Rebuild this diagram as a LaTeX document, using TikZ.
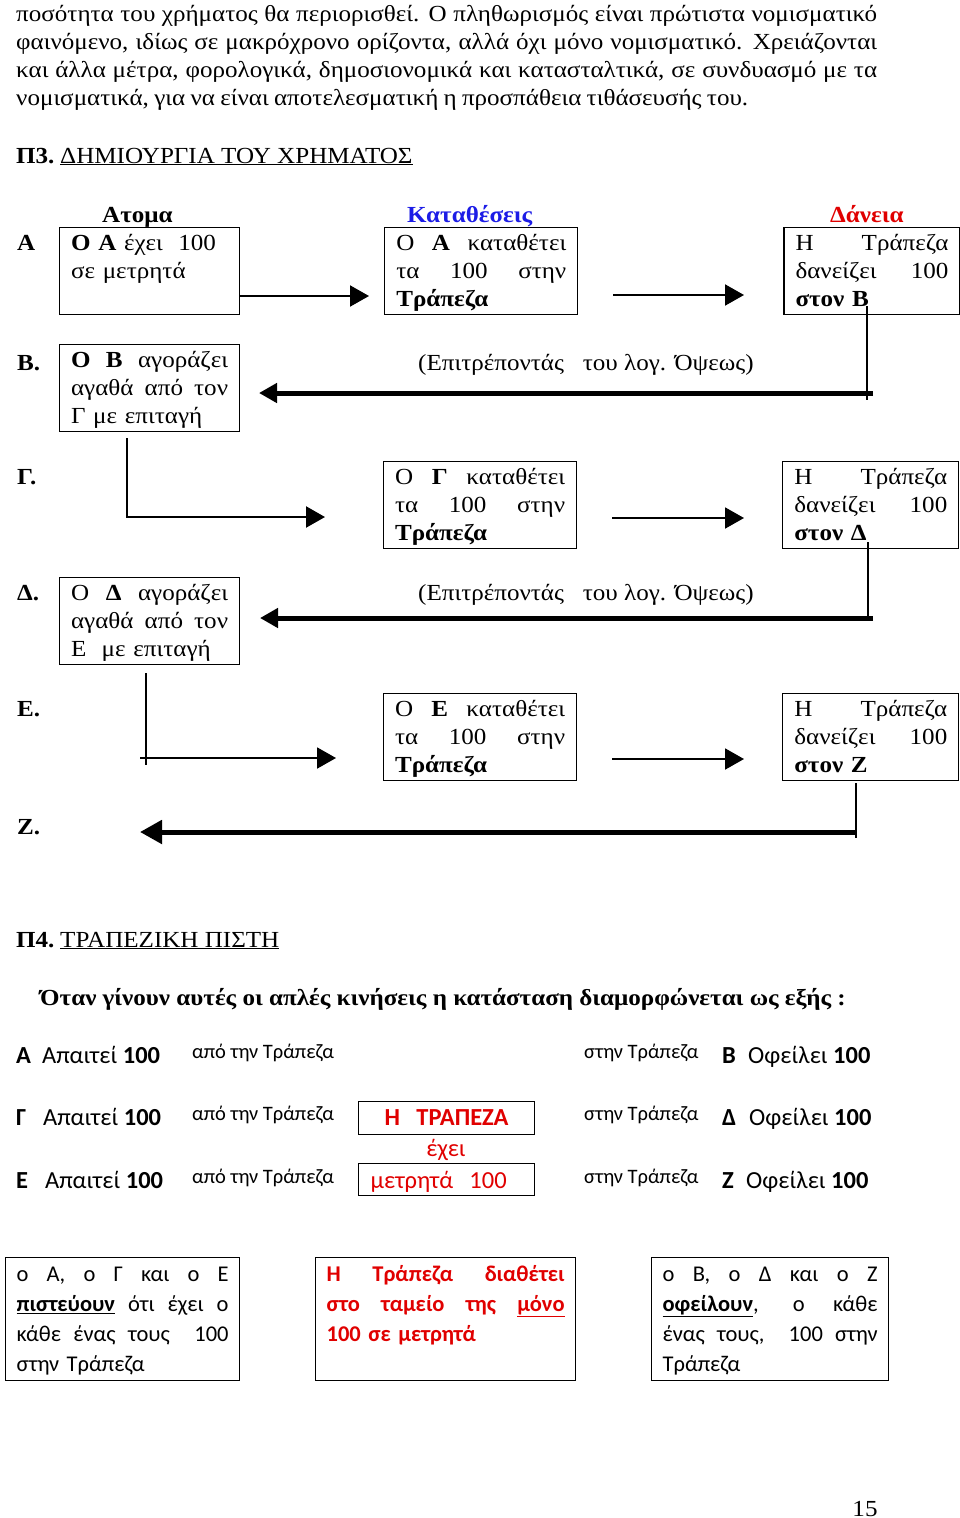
\documentclass[tikz,border=0pt]{standalone}
\usepackage{fontspec}
\setmainfont{Liberation Serif}[FakeStretch=1.09]
\newfontfamily\calibri{Carlito}
\usepackage{tikz}
\usetikzlibrary{arrows.meta, positioning}
\definecolor{depblue}{HTML}{1C1CE6}
\definecolor{loanred}{HTML}{E00000}
\newcommand{\tms}{\fontsize{23}{28}\selectfont}
\newcommand{\cbig}{\calibri\fontsize{24.5}{29}\selectfont}
\newcommand{\csml}{\calibri\fontsize{20.5}{24}\selectfont}
\newcommand{\cbox}{\calibri\fontsize{22.5}{30}\selectfont}
% justified line (spaces stretch to the full width)
\newcommand{\jl}[1]{\makebox[\hsize][s]{\spaceskip=0pt\xspaceskip=0pt #1}}

\begin{document}
\begin{tikzpicture}[
    x=1pt, y=-1pt,
    bodytxt/.style={anchor=base west, inner sep=0pt, font=\tms},
    boldtxt/.style={anchor=base west, inner sep=0pt, font=\tms\bfseries},
    tbox/.style={draw, line width=1.2pt, anchor=north west, inner xsep=11.5pt, inner ysep=0pt, text height=23pt, text depth=64pt, align=left, font=\tms},
    flow/.style={line width=2pt, -{Triangle[length=19pt,width=21pt]}},
    back/.style={line width=5pt, -{Triangle[length=18pt,width=19pt]}},
    drop/.style={line width=2.6pt},
    crow/.style={anchor=base west, inner sep=0pt, font=\cbig},
    csm/.style={anchor=base west, inner sep=0pt, font=\csml},
    redbox/.style={draw, line width=1.2pt, anchor=north west, inner xsep=6pt, inner ysep=0pt, text width=164pt, text=loanred, font=\cbig},
    note/.style={draw, line width=1.2pt, anchor=north west, inner xsep=11pt, inner ysep=0pt, text height=24pt, text depth=99pt, align=left, font=\cbox}
]
\useasboundingbox (0,0) rectangle (960,1518);

% tail of the previous paragraph
\node[bodytxt] (p1) at (16,21) {\makebox[861pt][s]{ποσότητα του χρήματος θα περιορισθεί. Ο πληθωρισμός είναι πρώτιστα νομισματικό}};
\node[bodytxt] (p2) at (16,49) {\makebox[861pt][s]{φαινόμενο, ιδίως σε μακρόχρονο ορίζοντα, αλλά όχι μόνο νομισματικό. Χρειάζονται}};
\node[bodytxt] (p3) at (16,77) {\makebox[861pt][s]{και άλλα μέτρα, φορολογικά, δημοσιονομικά και κατασταλτικά, σε συνδυασμό με τα}};
\node[bodytxt] (p4) at (16,105) {\makebox[732pt][s]{νομισματικά, για να είναι αποτελεσματική η προσπάθεια τιθάσευσής του.}};

% Π3 heading
\node[boldtxt] (h3) at (16,163) {Π3.};
\node[bodytxt] (h3t) at (60,163) {\underline{ΔΗΜΙΟΥΡΓΙΑ ΤΟΥ ΧΡΗΜΑΤΟΣ}};

% column heads
\node[boldtxt] (hind) at (102,222) {Ατομα};
\node[boldtxt, text=depblue] (hdep) at (407,222) {Καταθέσεις};
\node[boldtxt, text=loanred] (hloan) at (830,222) {Δάνεια};

% Row A
\node[boldtxt] (la) at (17,250) {Α};
\node[tbox, text width=157pt] (a1) at (59,227) {\textbf{Ο Α} έχει\ \ 100\\σε μετρητά};
\node[tbox, text width=170pt, right=144pt of a1] (a2) {\jl{Ο \textbf{Α} καταθέτει}\\\jl{τα 100 στην}\\\textbf{Τράπεζα}};
\node[tbox, text width=153pt, right=205pt of a2] (a3) {\jl{Η Τράπεζα}\\\jl{δανείζει 100}\\\textbf{στον Β}};
\coordinate (a12) at (369,296);
\draw[flow] (a1.east |- a12) -- (a12);
\coordinate (a23s) at (613,295);
\coordinate (a23e) at (744,295);
\draw[flow] (a23s) -- (a23e);

% Row B
\node[boldtxt] (lb) at (17,370) {Β.};
\node[tbox, text width=157pt] (b1) at (59,344) {\jl{\textbf{Ο} \textbf{Β} αγοράζει}\\\jl{αγαθά από τον}\\Γ με επιταγή};
\node[bodytxt] (allow1) at (418,370) {(Επιτρέποντάς\ \ \ του λογ. Όψεως)};
\coordinate (ab1) at (867,306);
\coordinate (ab2) at (867,400);
\coordinate (ab3) at (873,393);
\coordinate (ab4) at (259,393);
\draw[drop] (ab1) -- (ab2);
\draw[back] (ab3) -- (ab4);

% Row Γ
\node[boldtxt] (lg) at (17,484) {Γ.};
\coordinate (bg1) at (127,438);
\coordinate (bg2) at (325,517);
\draw[flow, line width=2.3pt] (bg1) |- (bg2);
\node[tbox, text width=170pt] (g2) at (383,461) {\jl{Ο \textbf{Γ} καταθέτει}\\\jl{τα 100 στην}\\\textbf{Τράπεζα}};
\node[tbox, text width=153pt, right=205pt of g2] (g3) {\jl{Η Τράπεζα}\\\jl{δανείζει 100}\\\textbf{στον Δ}};
\coordinate (g23s) at (612,518);
\coordinate (g23e) at (744,518);
\draw[flow] (g23s) -- (g23e);

% Row Δ
\node[boldtxt] (ld) at (17,600) {Δ.};
\node[tbox, text width=157pt] (d1) at (59,577) {\jl{Ο \textbf{Δ} αγοράζει}\\\jl{αγαθά από τον}\\Ε\ \ με επιταγή};
\node[bodytxt] (allow2) at (418,600) {(Επιτρέποντάς\ \ \ του λογ. Όψεως)};
\coordinate (gd1) at (868,542);
\coordinate (gd2) at (868,621);
\coordinate (gd3) at (873,618);
\coordinate (gd4) at (260,618);
\draw[drop] (gd1) -- (gd2);
\draw[back] (gd3) -- (gd4);

% Row Ε
\node[boldtxt] (le) at (17,716) {Ε.};
\coordinate (de1) at (146,673);
\coordinate (de2) at (146,765);
\coordinate (de3) at (140,758);
\coordinate (de4) at (336,758);
\draw[drop] (de1) -- (de2);
\draw[flow] (de3) -- (de4);
\node[tbox, text width=170pt] (e2) at (383,693) {\jl{Ο \textbf{Ε} καταθέτει}\\\jl{τα 100 στην}\\\textbf{Τράπεζα}};
\node[tbox, text width=153pt, right=205pt of e2] (e3) {\jl{Η Τράπεζα}\\\jl{δανείζει 100}\\\textbf{στον Ζ}};
\coordinate (e23s) at (612,759);
\coordinate (e23e) at (744,759);
\draw[flow] (e23s) -- (e23e);

% Row Ζ
\node[boldtxt] (lz) at (17,834) {Ζ.};
\coordinate (ez1) at (856,783);
\coordinate (ez2) at (856,838);
\coordinate (ez3) at (856,832);
\coordinate (ez4) at (140,832);
\draw[drop] (ez1) -- (ez2);
\draw[back, -{Triangle[length=22pt,width=23pt]}] (ez3) -- (ez4);

% Π4 heading
\node[boldtxt] (h4) at (16,947) {Π4.};
\node[bodytxt] (h4t) at (60,947) {\underline{ΤΡΑΠΕΖΙΚΗ ΠΙΣΤΗ}};
\node[boldtxt] (when) at (40,1005) {Όταν γίνουν αυτές οι απλές κινήσεις η κατάσταση διαμορφώνεται ως εξής :};

% claims and debts
\node[crow] (ca) at (16,1063) {\textbf{Α}};
\node[crow] (ca2) at (42,1063) {Απαιτεί \textbf{100}};
\node[csm] (ca3) at (192,1058) {από την Τράπεζα};
\node[csm] (cb3) at (584,1058) {στην Τράπεζα};
\node[crow] (cb) at (722,1063) {\textbf{Β}};
\node[crow] (cb2) at (748,1063) {Οφείλει \textbf{100}};

\node[crow] (cg) at (16,1125) {\textbf{Γ}};
\node[crow] (cg2) at (43,1125) {Απαιτεί \textbf{100}};
\node[csm] (cg3) at (192,1120) {από την Τράπεζα};
\node[csm] (cd3) at (584,1120) {στην Τράπεζα};
\node[crow] (cd) at (722,1125) {\textbf{Δ}};
\node[crow] (cd2) at (749,1125) {Οφείλει \textbf{100}};

\node[crow] (ce) at (16,1188) {\textbf{Ε}};
\node[crow] (ce2) at (45,1188) {Απαιτεί \textbf{100}};
\node[csm] (ce3) at (192,1183) {από την Τράπεζα};
\node[csm] (cz3) at (584,1183) {στην Τράπεζα};
\node[crow] (cz) at (722,1188) {\textbf{Ζ}};
\node[crow] (cz2) at (746,1188) {Οφείλει \textbf{100}};

% the bank
\node[redbox, align=center, text height=24pt, text depth=9pt, font=\cbig\bfseries] (bank) at (358,1101) {Η\ \ ΤΡΑΠΕΖΑ};
\node[anchor=base, inner sep=0pt, text=loanred, font=\cbig] (has) at (446,1156) {έχει};
\node[redbox, align=left, text height=25pt, text depth=7pt] (cash) at (358,1163) {\hspace*{6pt}μετρητά\ \ 100};

% summary boxes
\node[note, text width=212pt] (n1) at (5,1257) {\jl{ο Α, ο Γ και ο Ε}\\\jl{\textbf{\underline{πιστεύουν}} ότι έχει ο}\\\jl{κάθε ένας τους\ \ 100}\\στην Τράπεζα};
\node[note, text width=238pt, text=loanred, font=\cbox\bfseries] (n2) at (315,1257) {\jl{Η Τράπεζα διαθέτει}\\\jl{στο ταμείο της \underline{μόνο}}\\100 σε μετρητά};
\node[note, text width=215pt] (n3) at (651,1257) {\jl{ο Β, ο Δ και ο Ζ}\\\jl{\textbf{\underline{οφείλουν}}, ο κάθε}\\\jl{ένας τους,\ \ 100 στην}\\Τράπεζα};

% page number
\node[bodytxt, anchor=base] (pg) at (865,1516) {15};
\end{tikzpicture}
\end{document}
